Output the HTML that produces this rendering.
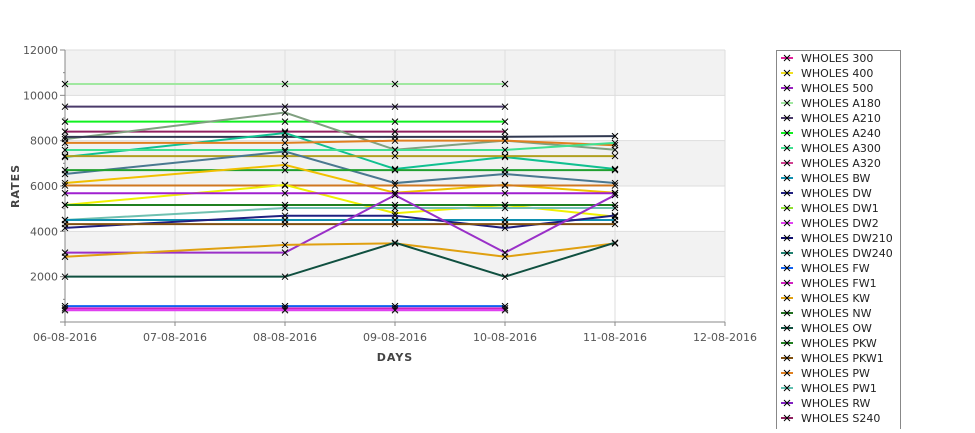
<!DOCTYPE html>
<html><head><meta charset="utf-8">
<style>
body{margin:0;background:#fff;width:975px;height:429px;overflow:hidden;font-family:"DejaVu Sans","Liberation Sans",sans-serif;}
svg text{font-family:"DejaVu Sans","Liberation Sans",sans-serif;}
</style></head>
<body>
<svg id="chart" width="975" height="429" xmlns="http://www.w3.org/2000/svg"></svg>
<script>
const categories=["06-08-2016","07-08-2016","08-08-2016","09-08-2016","10-08-2016","11-08-2016","12-08-2016"];
const yTicks=[2000,4000,6000,8000,10000,12000];
const seriesNames=["WHOLES 300","WHOLES 400","WHOLES 500","WHOLES A180","WHOLES A210","WHOLES A240","WHOLES A300","WHOLES A320","WHOLES BW","WHOLES DW","WHOLES DW1","WHOLES DW2","WHOLES DW210","WHOLES DW240","WHOLES FW","WHOLES FW1","WHOLES KW","WHOLES NW","WHOLES OW","WHOLES PKW","WHOLES PKW1","WHOLES PW","WHOLES PW1","WHOLES RW","WHOLES S240"];
const legendColors=["#e0209a","#f0e020","#9a20c0","#a0e8a0","#4a3a6a","#10f020","#40e090","#d04090","#1090b0","#202080","#90e030","#e040f0","#101070","#208070","#1060f0","#d020c0","#e0a010","#207020","#105040","#208020","#805010","#e08020","#60c0b0","#8020c0","#902060"];
// values at dates index 0,2,3,4,5 (06,08,09,10,11)
const pointDates=[0,2,3,4,5];
const s01=[10500,10500,10500,10500,null];
const s02=[9500,9500,9500,9500,null];
const s03=[8840,8840,8840,8840,null];
const s04=[8400,8400,8400,8400,null];
const s05=[8070,9240,7600,8000,7600];
const s06=[8170,8170,8170,8170,8200];
const s07=[7280,8340,6750,7280,6750];
const s08=[7900,7900,8000,8000,7800];
const s09=[7590,7590,7590,7590,7900];
const s10=[7320,7320,7320,7320,7320];
const s11=[6530,7520,6130,6530,6130];
const s12=[6700,6700,6700,6700,6700];
const s13=[6130,6930,5700,6050,5700];
const s14=[6020,6020,6020,6020,6020];
const s15=[5160,6050,4800,5160,4650];
const s16=[5680,5680,5680,5680,5680];
const s17=[5160,5160,5160,5160,5160];
const s18=[4500,5030,5030,5030,5030];
const s19=[4500,4500,4500,4500,4500];
const s20=[4150,4690,4690,4150,4700];
const s21=[4320,4320,4320,4320,4320];
const s22=[3060,3060,5600,3060,5600];
const s23=[2880,3400,3470,2880,3470];
const s24=[2000,2000,3500,2000,3500];
const s25=[700,700,700,700,null];
const s26=[600,600,600,600,null];
const s27=[520,520,520,520,null];
const allSeries=[s01,s02,s03,s04,s05,s06,s07,s08,s09,s10,s11,s12,s13,s14,s15,s16,s17,s18,s19,s20,s21,s22,s23,s24,s25,s26,s27];
const lineColors=["#a0e8a0","#4a3a6a","#10f020","#902060","#80a080","#303850","#10c090","#e08020","#40e090","#b0a020","#4a7890","#20a030","#f0c000","#d07820","#f0f000","#a020d0","#208020","#70c0b0","#1090b0","#202080","#805010","#9a30c8","#e0a010","#105040","#1060f0","#d020c0","#e040f0"];

const NS="http://www.w3.org/2000/svg";
const svg=document.getElementById('chart');
const X0=65,X1=725,Y0=322,Y1=50,YMAX=12000;
function xs(i){return X0+(X1-X0)*i/(categories.length-1);}
function ys(v){return Y0-(Y0-Y1)*v/YMAX;}
function mk(tag,attrs,parent){const e=document.createElementNS(NS,tag);for(const k in attrs)e.setAttribute(k,attrs[k]);(parent||svg).appendChild(e);return e;}

// bands
for(let b=0;b<6;b++){
  const lo=b*2000,hi=lo+2000;
  const r=mk('rect',{x:X0,y:ys(hi),width:X1-X0,height:ys(lo)-ys(hi),fill:(b%2==1)?'#f2f2f2':'#ffffff'});
  
  
}
// grid
yTicks.forEach(v=>{const l=mk('line',{x1:X0,x2:X1,y1:ys(v),y2:ys(v),stroke:'#dddddd'});

});
categories.forEach((c,i)=>{if(i==0)return;const l=mk('line',{x1:xs(i),x2:xs(i),y1:Y1,y2:Y0,stroke:'#dddddd'});

});
// axes
const ax=mk('line',{x1:X0,x2:X0,y1:Y1,y2:Y0,stroke:'#888'});


const axx=mk('line',{x1:X0-5,x2:X1,y1:Y0,y2:Y0,stroke:'#888'});


for(let v=1000;v<=12000;v+=1000){mk('line',{x1:X0-(v%2000==0?5:2),x2:X0,y1:ys(v),y2:ys(v),stroke:'#888'});}
yTicks.forEach(v=>{const t=mk('text',{x:X0-7,y:ys(v)+4,'text-anchor':'end','font-size':'11',fill:'#555'});t.textContent=v;

});
categories.forEach((c,i)=>{mk('line',{x1:xs(i),x2:xs(i),y1:Y0,y2:Y0+4,stroke:'#888'});const t=mk('text',{x:xs(i),y:Y0+19,'text-anchor':'middle','font-size':'11',fill:'#555'});t.textContent=c;

});
const yt=mk('text',{x:19,y:186,'text-anchor':'middle','font-size':'11','font-weight':'bold',fill:'#444',transform:'rotate(-90 19 186)','letter-spacing':'1'});yt.textContent='RATES';


const xt=mk('text',{x:395,y:361,'text-anchor':'middle','font-size':'11','font-weight':'bold',fill:'#444','letter-spacing':'1'});xt.textContent='DAYS';



function cross(x,y,g){mk('path',{d:`M${x-3},${y-3}L${x+3},${y+3}M${x-3},${y+3}L${x+3},${y-3}`,stroke:'#000','stroke-width':'1'},g);}
allSeries.forEach((s,si)=>{
  const g=mk('g',{});
  
  
  let d='';let started=false;
  s.forEach((v,k)=>{if(v==null)return;d+=(started?'L':'M')+xs(pointDates[k])+','+ys(v);started=true;});
  mk('path',{d:d,fill:'none',stroke:lineColors[si],'stroke-width':'2'},g);
  s.forEach((v,k)=>{if(v==null)return;cross(xs(pointDates[k]),ys(v),g);});
});
// legend
const lg=mk('g',{});


mk('rect',{x:776.5,y:50.5,width:124,height:400,fill:'#fff',stroke:'#888'},lg);
seriesNames.forEach((n,i)=>{
  const y=58+i*15;
  const e=mk('g',{},lg);
  
  
  mk('line',{x1:781,x2:793,y1:y,y2:y,stroke:legendColors[i],'stroke-width':'2'},e);
  cross(787,y,e);
  const t=mk('text',{x:801,y:y+4,'font-size':'11',fill:'#222'},e);t.textContent=n;
});
</script>
</body></html>
